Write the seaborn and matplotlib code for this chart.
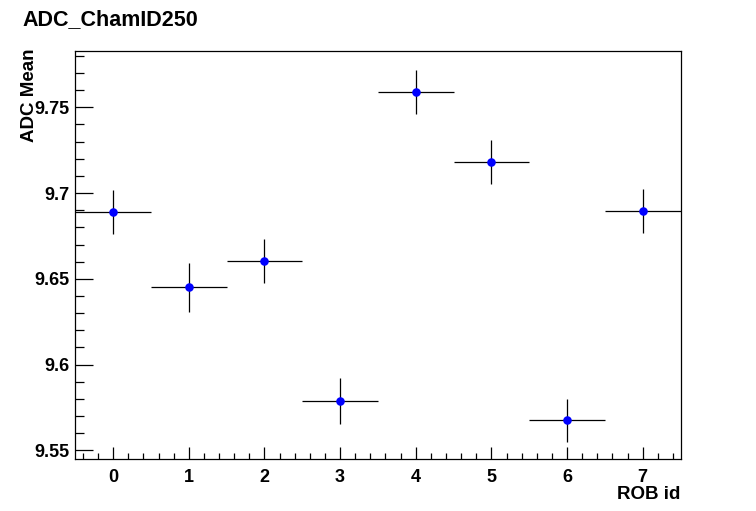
import matplotlib
matplotlib.use("Agg")
import matplotlib.pyplot as plt
from matplotlib.ticker import MultipleLocator
import seaborn as sns
import pandas as pd

rob_id = [0, 1, 2, 3, 4, 5, 6, 7]
adc_mean = [9.6889, 9.6452, 9.6604, 9.5786, 9.7589, 9.7181, 9.5675, 9.6895]
adc_err = [0.0127, 0.0143, 0.0130, 0.0134, 0.0130, 0.0130, 0.0124, 0.0126]
x_half_width = [0.5] * 8
x_tick_labels = ["0", "1", "2", "3", "4", "5", "6", "7"]
y_ticks = [9.55, 9.6, 9.65, 9.7, 9.75]
y_tick_labels = ["9.55", "9.6", "9.65", "9.7", "9.75"]

df = pd.DataFrame({"rob": rob_id, "mean": adc_mean, "err": adc_err, "xerr": x_half_width})

sns.set_theme(style="white")
plt.rcParams["font.family"] = ["Liberation Sans", "DejaVu Sans"]
plt.rcParams["font.weight"] = "bold"
plt.rcParams["text.color"] = "black"
plt.rcParams["xtick.color"] = "black"
plt.rcParams["ytick.color"] = "black"

fig = plt.figure(figsize=(7.56, 5.11), dpi=100)
ax = fig.add_axes([75.3 / 756, 1 - 459.3 / 511, (680.5 - 75.3) / 756, (459.3 - 50.7) / 511])

ax.errorbar(df["rob"], df["mean"], yerr=df["err"], xerr=df["xerr"], fmt="none",
            ecolor="black", elinewidth=0.9, capsize=0, zorder=2)
sns.scatterplot(data=df, x="rob", y="mean", ax=ax, color="#0000ff", marker="o",
                s=38, linewidth=0, zorder=3, legend=False)

ax.set_xlim(-0.5, 7.5)
ax.set_ylim(9.5448, 9.783)
ax.set_xticks(rob_id)
ax.set_xticklabels(x_tick_labels)
ax.set_yticks(y_ticks)
ax.set_yticklabels(y_tick_labels)
ax.xaxis.set_minor_locator(MultipleLocator(0.2))
ax.yaxis.set_minor_locator(MultipleLocator(0.01))
ax.tick_params(axis="both", which="both", direction="in", colors="black",
               bottom=True, left=True, top=False, right=False, labelsize=13)
ax.tick_params(axis="x", which="major", length=9, width=0.9, pad=7)
ax.tick_params(axis="x", which="minor", length=4.5, width=0.9)
ax.tick_params(axis="y", which="major", length=13, width=0.9, pad=4)
ax.tick_params(axis="y", which="minor", length=6.5, width=0.9)
for lab in ax.get_xticklabels() + ax.get_yticklabels():
    lab.set_fontweight("bold")
    lab.set_color("black")
ax.set_xlabel("")
ax.set_ylabel("")
for sp in ax.spines.values():
    sp.set_color("black")
    sp.set_linewidth(0.9)

fig.text(22 / 756, 1 - 25 / 511, "ADC_ChamID250", fontsize=15.5, fontweight="bold",
         ha="left", va="baseline", color="black")
fig.text(30 / 756, 1 - 48 / 511, "ADC Mean", fontsize=13.5, fontweight="bold",
         rotation=90, ha="center", va="top", color="black")
fig.text(680.5 / 756, 1 - 499 / 511, "ROB id", fontsize=13.5, fontweight="bold",
         ha="right", va="baseline", color="black")

fig.savefig("out.png", dpi=100)
